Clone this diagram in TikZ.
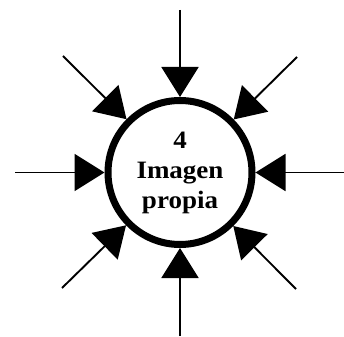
\documentclass[tikz,border=0pt]{standalone}
\usepackage{fontspec}
\newfontfamily\hubfont{Liberation Serif}[FakeStretch=1.08]
\usetikzlibrary{arrows.meta}
\begin{document}
\begin{tikzpicture}[x=1pt,y=-1pt,
  inarrow/.style={line width=1.9pt,-{Triangle[length=30pt,width=37pt]}},
  hub/.style={circle,draw,line width=7pt,minimum size=144pt,inner sep=0pt,
    align=center,font=\hubfont\fontsize{25}{30}\selectfont\bfseries}]
\useasboundingbox (0,0) rectangle (344,336);
\node[hub] (c) at (180,172.5) {4\\Imagen\\propia};
\coordinate (t) at (180,10);
\coordinate (b) at (180,336);
\coordinate (l) at (15,172.5);
\coordinate (r) at (344,172.5);
\coordinate (tl) at (63,56);
\coordinate (tr) at (297,57);
\coordinate (bl) at (62,288);
\coordinate (br) at (296,289);
\foreach \p in {t,b,l,r,tl,tr,bl,br} \draw[inarrow] (\p) -- (c);
\end{tikzpicture}
\end{document}
